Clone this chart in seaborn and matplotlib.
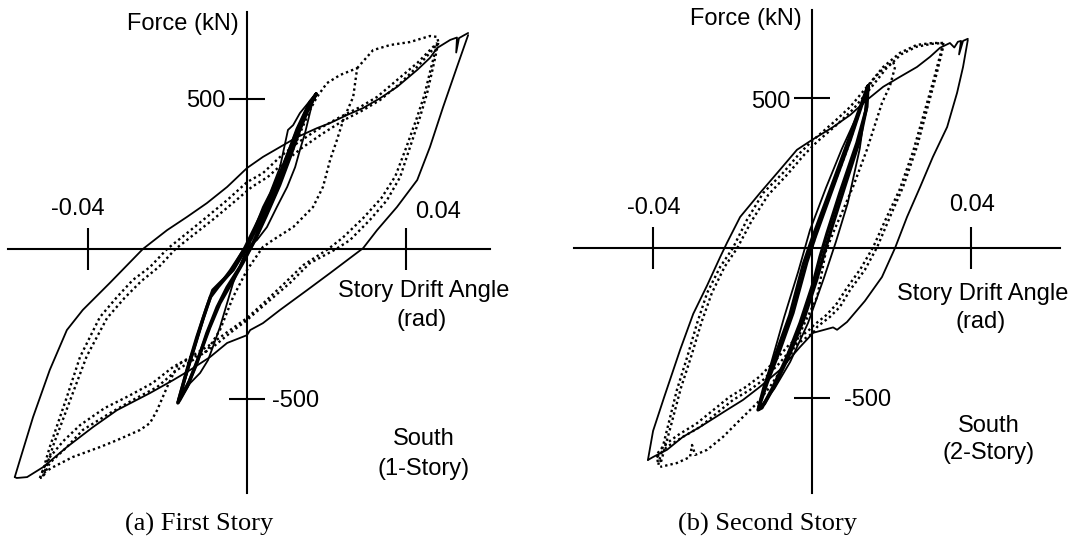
import numpy as np
import matplotlib
matplotlib.use("Agg")
import matplotlib.pyplot as plt
import seaborn as sns

# ---------------------------------------------------------------
# Hysteresis data: (story drift angle [rad], shear force [kN])
# ---------------------------------------------------------------

# (a) First story
A_SOLID_UP = [(-0.0584, -760), (-0.0571, -703), (-0.0538, -560), (-0.0496, -403), (-0.0453, -270),
              (-0.0413, -203), (-0.0345, -113), (-0.0262, 0), (-0.0201, 63), (-0.0151, 107),
              (-0.0101, 153), (-0.0050, 207), (0.0, 270), (0.0040, 307), (0.0083, 340),
              (0.0126, 373), (0.0176, 403), (0.0209, 420), (0.0252, 447), (0.0292, 470),
              (0.0335, 503), (0.0377, 540), (0.0428, 597), (0.0460, 637), (0.0478, 670),
              (0.0511, 697), (0.0528, 705), (0.0526, 655), (0.0533, 703), (0.0545, 712),
              (0.0556, 720)]
A_SOLID_DOWN = [(0.0556, 713), (0.0528, 607), (0.0493, 473), (0.0460, 340), (0.0428, 230),
                (0.0377, 140), (0.0327, 63), (0.0292, 3), (0.0209, -80), (0.0151, -137),
                (0.0083, -203), (0.0040, -247), (0.0008, -270), (0.0, -287), (-0.0050, -313),
                (-0.0093, -360), (-0.0143, -403), (-0.0186, -437), (-0.0244, -480),
                (-0.0327, -537), (-0.0387, -593), (-0.0453, -660), (-0.0513, -727),
                (-0.0553, -760), (-0.0579, -763), (-0.0584, -760)]
A_DOT1_UP = [(-0.0521, -763), (-0.0513, -737), (-0.0496, -660), (-0.0453, -493), (-0.0420, -360),
             (-0.0370, -227), (-0.0327, -160), (-0.0287, -103), (-0.0244, -60), (-0.0201, 0),
             (-0.0151, 53), (-0.0101, 107), (-0.0050, 163), (0.0, 223), (0.0040, 253),
             (0.0083, 307), (0.0126, 353), (0.0176, 397), (0.0234, 440), (0.0284, 473),
             (0.0327, 507), (0.0377, 563), (0.0428, 620), (0.0460, 663), (0.0478, 687)]
A_DOT1_DOWN = [(0.0481, 687), (0.0468, 607), (0.0453, 520), (0.0435, 440), (0.0410, 340),
               (0.0385, 240), (0.0352, 163), (0.0309, 97), (0.0259, 30), (0.0224, 0),
               (0.0158, -47), (0.0108, -113), (0.0058, -170), (0.0008, -227), (0.0, -237),
               (-0.0043, -280), (-0.0086, -327), (-0.0136, -370), (-0.0176, -403),
               (-0.0226, -460), (-0.0287, -503), (-0.0345, -547), (-0.0413, -603),
               (-0.0453, -660), (-0.0496, -713), (-0.0513, -760), (-0.0521, -763)]
A_DOT2_UP = [(-0.0513, -757), (-0.0505, -727), (-0.0486, -650), (-0.0440, -487), (-0.0403, -357),
             (-0.0352, -230), (-0.0308, -163), (-0.0266, -107), (-0.0222, -60), (-0.0180, 0),
             (-0.0132, 50), (-0.0084, 100), (-0.0036, 153), (0.0012, 207), (0.0052, 240),
             (0.0094, 290), (0.0138, 337), (0.0188, 383), (0.0244, 430), (0.0292, 463),
             (0.0335, 497), (0.0383, 550), (0.0430, 610), (0.0462, 657), (0.0478, 683)]
A_DOT2_DOWN = [(0.0478, 683), (0.0462, 600), (0.0446, 513), (0.0426, 433), (0.0400, 337),
               (0.0373, 243), (0.0338, 170), (0.0292, 103), (0.0240, 37), (0.0204, 0),
               (0.0142, -53), (0.0092, -117), (0.0044, -177), (0.0, -230), (-0.0050, -277),
               (-0.0094, -320), (-0.0146, -363), (-0.0186, -393), (-0.0238, -447),
               (-0.0298, -490), (-0.0358, -530), (-0.0420, -587), (-0.0462, -640),
               (-0.0500, -700), (-0.0515, -743), (-0.0513, -757)]
A_DOT_MID = [(0.0, 0), (0.0040, 120), (0.0083, 230), (0.0126, 363), (0.0158, 463), (0.0176, 507),
             (0.0201, 553), (0.0234, 580), (0.0277, 603), (0.0267, 507), (0.0242, 430),
             (0.0226, 363), (0.0209, 297), (0.0191, 207), (0.0166, 140), (0.0116, 73),
             (0.0065, 30), (0.0040, 7), (0.0, -70), (-0.0035, -160), (-0.0068, -270),
             (-0.0101, -340), (-0.0151, -370), (-0.0174, -385), (-0.0201, -460),
             (-0.0226, -537), (-0.0244, -580), (-0.0269, -603), (-0.0327, -637),
             (-0.0370, -660), (-0.0438, -693), (-0.0488, -727), (-0.0513, -747)]
A_DOT_TOP = [(0.0277, 603), (0.0317, 663), (0.0360, 680), (0.0410, 690), (0.0460, 710),
             (0.0478, 707), (0.0481, 690)]
A_THIN = [(0.0, 5), (0.0020, 73), (0.0040, 140), (0.0058, 187), (0.0083, 273), (0.0103, 397),
          (0.0116, 413), (0.0133, 453), (0.0154, 487), (0.0174, 517), (0.0166, 497),
          (0.0158, 453), (0.0146, 387), (0.0133, 330), (0.0121, 273), (0.0101, 207),
          (0.0075, 140), (0.0050, 73), (0.0025, 30), (0.0, 3), (-0.0035, -113),
          (-0.0068, -260), (-0.0086, -327), (-0.0098, -370), (-0.0118, -413),
          (-0.0143, -447), (-0.0174, -513), (-0.0169, -493), (-0.0143, -380),
          (-0.0118, -270), (-0.0093, -160), (-0.0075, -127), (-0.0043, -70),
          (-0.0010, -3), (0.0, 5)]
A_THICK1 = [(0.0174, 517), (0.0158, 490), (0.0126, 400), (0.0091, 273), (0.0058, 165),
            (0.0025, 75), (0.0, 7), (-0.0035, -70), (-0.0068, -113), (-0.0086, -137),
            (-0.0101, -193), (-0.0126, -293), (-0.0151, -403), (-0.0174, -513),
            (-0.0169, -503), (-0.0151, -460), (-0.0126, -380), (-0.0101, -280),
            (-0.0075, -193), (-0.0050, -127), (-0.0018, -60), (0.0015, 20), (0.0040, 93),
            (0.0075, 197), (0.0101, 287), (0.0126, 380), (0.0146, 445), (0.0166, 500),
            (0.0174, 517)]
A_THICK2 = [(0.0172, 512), (0.0152, 470), (0.0120, 375), (0.0086, 262), (0.0052, 160),
            (0.0020, 72), (-0.0005, 5), (-0.0040, -75), (-0.0072, -125), (-0.0092, -160),
            (-0.0110, -230), (-0.0133, -330), (-0.0155, -425), (-0.0172, -505),
            (-0.0165, -490), (-0.0145, -440), (-0.0120, -355), (-0.0094, -262),
            (-0.0068, -180), (-0.0040, -115), (-0.0010, -45), (0.0022, 35), (0.0048, 110),
            (0.0082, 213), (0.0108, 305), (0.0132, 395), (0.0152, 460), (0.0172, 512)]

# (b) Second story
B_SOLID_UP = [(-0.0413, -707), (-0.0400, -610), (-0.0372, -497), (-0.0332, -340), (-0.0299, -220),
              (-0.0264, -125), (-0.0231, -30), (-0.0214, 17), (-0.0181, 103), (-0.0131, 183),
              (-0.0081, 260), (-0.0038, 327), (0.0, 360), (0.0053, 403), (0.0096, 443),
              (0.0138, 493), (0.0179, 537), (0.0221, 570), (0.0264, 603), (0.0297, 637),
              (0.0322, 667), (0.0347, 683), (0.0358, 668), (0.0367, 687), (0.0375, 690),
              (0.0370, 645), (0.0380, 690), (0.0392, 697)]
B_SOLID_DOWN = [(0.0392, 693), (0.0380, 603), (0.0365, 517), (0.0340, 403), (0.0304, 303),
                (0.0272, 203), (0.0239, 103), (0.0209, 0), (0.0176, -97), (0.0133, -177),
                (0.0088, -247), (0.0063, -273), (0.0053, -265), (0.0003, -283),
                (-0.0030, -330), (-0.0081, -407), (-0.0131, -463), (-0.0174, -507),
                (-0.0214, -540), (-0.0282, -597), (-0.0325, -630), (-0.0365, -673),
                (-0.0400, -697), (-0.0413, -707)]
B_DOT1_UP = [(-0.0387, -723), (-0.0365, -607), (-0.0340, -473), (-0.0314, -363), (-0.0289, -250),
             (-0.0264, -150), (-0.0231, -63), (-0.0199, 0), (-0.0164, 93), (-0.0123, 183),
             (-0.0073, 250), (-0.0030, 317), (0.0003, 360), (0.0053, 417), (0.0096, 470),
             (0.0138, 537), (0.0179, 603), (0.0221, 650), (0.0264, 677), (0.0304, 683),
             (0.0330, 683)]
B_DOT1_DOWN = [(0.0330, 683), (0.0330, 670), (0.0314, 583), (0.0289, 460), (0.0264, 337),
               (0.0229, 203), (0.0196, 103), (0.0164, 3), (0.0133, -73), (0.0096, -140),
               (0.0070, -197), (0.0045, -230), (0.0013, -263), (0.0003, -283),
               (-0.0048, -330), (-0.0081, -383), (-0.0123, -440), (-0.0156, -473),
               (-0.0199, -507), (-0.0239, -550), (-0.0282, -597), (-0.0325, -630),
               (-0.0365, -663), (-0.0390, -697), (-0.0387, -723)]
B_DOT2_UP = [(-0.0380, -713), (-0.0356, -597), (-0.0330, -467), (-0.0303, -357), (-0.0278, -247),
             (-0.0252, -150), (-0.0220, -63), (-0.0188, 0), (-0.0152, 90), (-0.0110, 177),
             (-0.0062, 245), (-0.0020, 310), (0.0012, 353), (0.0062, 410), (0.0104, 463),
             (0.0146, 530), (0.0186, 597), (0.0224, 645), (0.0262, 670), (0.0300, 680),
             (0.0330, 683)]
B_DOT2_DOWN = [(0.0330, 683), (0.0322, 640), (0.0306, 560), (0.0280, 440), (0.0254, 320),
               (0.0220, 193), (0.0186, 97), (0.0154, 3), (0.0122, -70), (0.0088, -133),
               (0.0060, -190), (0.0035, -225), (0.0005, -257), (-0.0010, -277),
               (-0.0058, -323), (-0.0092, -375), (-0.0133, -430), (-0.0166, -463),
               (-0.0208, -497), (-0.0248, -540), (-0.0292, -587), (-0.0333, -620),
               (-0.0372, -657), (-0.0392, -690), (-0.0380, -713)]
B_DOT_MID = [(0.0, 0), (0.0020, 93), (0.0053, 203), (0.0088, 327), (0.0121, 460), (0.0150, 555),
             (0.0171, 587), (0.0204, 620), (0.0209, 603), (0.0196, 540), (0.0176, 483),
             (0.0138, 327), (0.0103, 203), (0.0053, 50), (0.0035, -10), (0.0013, -163),
             (-0.0023, -263), (-0.0055, -363), (-0.0081, -413), (-0.0106, -463),
             (-0.0138, -517), (-0.0181, -573), (-0.0224, -630), (-0.0264, -673),
             (-0.0294, -690), (-0.0302, -657), (-0.0307, -697), (-0.0340, -717),
             (-0.0382, -730)]
B_THIN = [(0.0141, 530), (0.0113, 440), (0.0075, 330), (0.0035, 200), (-0.0005, 60),
          (-0.0035, -80), (-0.0070, -230), (-0.0100, -370), (-0.0136, -540), (-0.0095, -470),
          (-0.0055, -380), (-0.0010, -250), (0.0030, -100), (0.0060, 20), (0.0090, 150),
          (0.0120, 330), (0.0141, 530)]
B_THICK1 = [(0.0141, 540), (0.0121, 460), (0.0096, 360), (0.0053, 203), (0.0008, 37),
            (-0.0013, -47), (-0.0048, -217), (-0.0081, -340), (-0.0113, -450), (-0.0136, -540),
            (-0.0126, -533), (-0.0098, -463), (-0.0063, -363), (-0.0030, -250), (0.0003, -117),
            (0.0020, -30), (0.0038, 50), (0.0070, 183), (0.0113, 350), (0.0138, 470),
            (0.0141, 540)]
B_THICK2 = [(0.0138, 530), (0.0115, 447), (0.0088, 345), (0.0045, 190), (0.0000, 30),
            (-0.0022, -55), (-0.0056, -225), (-0.0090, -350), (-0.0120, -460), (-0.0134, -530),
            (-0.0120, -520), (-0.0090, -450), (-0.0055, -350), (-0.0020, -235), (0.0012, -105),
            (0.0030, -20), (0.0048, 60), (0.0080, 195), (0.0120, 360), (0.0136, 460),
            (0.0138, 530)]

X_TICKS = [-0.04, 0.04]
Y_TICKS = [-500, 500]

PANELS = [
    dict(solid=[A_SOLID_UP, A_SOLID_DOWN, A_THIN],
         thick=[A_THICK1, A_THICK2],
         dotted=[A_DOT1_UP, A_DOT1_DOWN, A_DOT2_UP, A_DOT2_DOWN, A_DOT_MID, A_DOT_TOP],
         rect=[8 / 1072, 1 - 493 / 540, 482 / 1072, 481 / 540],
         xlim=(-0.0601, 0.0611), ylim=(-813, 790),
         texts=[("Force (kN)", -0.0020, 750, "right"), ("500", -0.0055, 493, "right"),
                ("-500", 0.0063, -507, "left"), ("-0.04", -0.0425, 133, "center"),
                ("0.04", 0.0480, 123, "center"), ("Story Drift Angle", 0.0445, -140, "center"),
                ("(rad)", 0.0440, -237, "center"), ("South", 0.0445, -633, "center"),
                ("(1-Story)", 0.0445, -733, "center")],
         caption=("(a) First Story", 199 / 1072)),
    dict(solid=[B_SOLID_UP, B_SOLID_DOWN, B_THIN],
         thick=[B_THICK1, B_THICK2],
         dotted=[B_DOT1_UP, B_DOT1_DOWN, B_DOT2_UP, B_DOT2_DOWN, B_DOT_MID],
         rect=[574 / 1072, 1 - 493 / 540, 486 / 1072, 483 / 540],
         xlim=(-0.0599, 0.0624), ylim=(-817, 793),
         texts=[("Force (kN)", -0.0025, 763, "right"), ("500", -0.0055, 487, "right"),
                ("-500", 0.0080, -507, "left"), ("-0.04", -0.0397, 133, "center"),
                ("0.04", 0.0403, 143, "center"), ("Story Drift Angle", 0.0430, -153, "center"),
                ("(rad)", 0.0425, -247, "center"), ("South", 0.0445, -593, "center"),
                ("(2-Story)", 0.0445, -683, "center")],
         caption=("(b) Second Story", 767 / 1072)),
]

sns.set_style("white")
plt.rcParams["font.family"] = ["Liberation Sans", "DejaVu Sans"]

fig = plt.figure(figsize=(10.72, 5.40), dpi=100)
fig.patch.set_facecolor("white")


def draw_branch(ax, pts, lw, ls):
    arr = np.asarray(pts, dtype=float)
    sns.lineplot(x=arr[:, 0], y=arr[:, 1], sort=False, estimator=None, ax=ax,
                 color="black", linewidth=lw, linestyle=ls, solid_joinstyle="round")


for p in PANELS:
    ax = fig.add_axes(p["rect"])
    ax.set_facecolor("white")
    for pts in p["dotted"]:
        draw_branch(ax, pts, 1.7, (0, (1.0, 1.3)))
    for pts in p["solid"]:
        draw_branch(ax, pts, 1.3, "-")
    for pts in p["thick"]:
        draw_branch(ax, pts, 2.4, "-")

    ax.set_xlim(*p["xlim"])
    ax.set_ylim(*p["ylim"])
    ax.set_xlabel("")
    ax.set_ylabel("")
    for side in ("top", "right"):
        ax.spines[side].set_visible(False)
    for side in ("left", "bottom"):
        ax.spines[side].set_position("zero")
        ax.spines[side].set_linewidth(1.5)
        ax.spines[side].set_color("black")
    ax.set_xticks(X_TICKS)
    ax.set_yticks(Y_TICKS)
    ax.tick_params(axis="x", which="major", bottom=True, top=False, direction="inout",
                   length=30, width=1.5, color="black", labelbottom=False)
    ax.tick_params(axis="y", which="major", left=True, right=False, direction="inout",
                   length=26, width=1.5, color="black", labelleft=False)

    for txt, x, y, ha in p["texts"]:
        ax.text(x, y, txt, ha=ha, va="center", fontsize=17, color="black")

    cap, cx = p["caption"]
    fig.text(cx, 1 - 524 / 540, cap, ha="center", va="center", fontsize=19,
             family="Liberation Serif", color="black")

fig.savefig("out.png", dpi=100, facecolor="white")
